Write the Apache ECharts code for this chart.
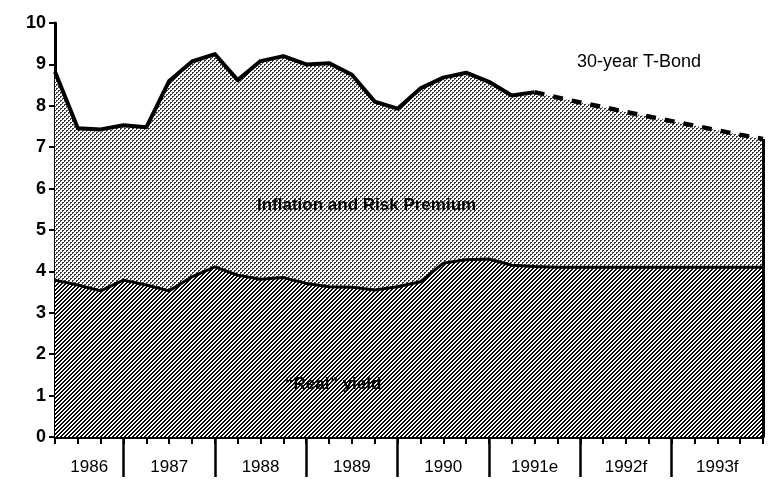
<!DOCTYPE html>
<html>
<head>
<meta charset="utf-8">
<script src="https://cdn.jsdelivr.net/npm/echarts@6/dist/echarts.min.js"></script>
<style>
  html, body { margin: 0; padding: 0; background: #fff; }
  #main { width: 772px; height: 483px; }
</style>
</head>
<body>
<div id="main"></div>
<script>
// quarterly points, Q2 1986 .. end of 1993
const tbond = [8.82, 7.46, 7.43, 7.53, 7.48, 8.6, 9.07, 9.25, 8.62, 9.08, 9.2, 9.0, 9.03, 8.75, 8.1, 7.93,
  8.42, 8.68, 8.8, 8.58, 8.25, 8.33, 8.2, 8.08, 7.97, 7.85, 7.74, 7.63, 7.52, 7.41, 7.3, 7.2];
const realYield = [3.79, 3.67, 3.53, 3.79, 3.67, 3.53, 3.87, 4.11, 3.91, 3.81, 3.85, 3.71, 3.63, 3.62, 3.55, 3.63,
  3.75, 4.2, 4.28, 4.3, 4.15, 4.12, 4.1, 4.1, 4.1, 4.1, 4.1, 4.1, 4.1, 4.1, 4.1, 4.1];
const lastActual = 21; // forecast (dashed) from here on
const years = ['1986', '1987', '1988', '1989', '1990', '1991e', '1992f', '1993f'];
const yearStart = [0, 3, 7, 11, 15, 19, 23, 27];
const xEnd = 31;
const yTicks = [0, 1, 2, 3, 4, 5, 6, 7, 8, 9, 10];

function makePattern(size, ink, fn) {
  const c = document.createElement('canvas');
  c.width = size; c.height = size;
  const ctx = c.getContext('2d');
  ctx.fillStyle = '#fff';
  ctx.fillRect(0, 0, size, size);
  ctx.fillStyle = ink;
  for (let x = 0; x < size; x++)
    for (let y = 0; y < size; y++)
      if (fn(x, y)) ctx.fillRect(x, y, 1, 1);
  return c;
}
const dots = makePattern(4, '#3a3a3a', (x, y) =>
  (x < 2 && y < 2 && !(x == 1 && y == 1)) || (x >= 2 && y >= 2 && !(x == 3 && y == 3)));
const hatch = makePattern(4, '#000', (x, y) => (x + y) % 4 < 2);

const yearMid = yearStart.map((s, i) => (s + (i + 1 < yearStart.length ? yearStart[i + 1] : xEnd)) / 2);
const yearByPos = {};
yearMid.forEach((m, i) => { yearByPos[m.toFixed(2)] = years[i]; });

const pts = arr => arr.map((v, i) => [i, v]);
const solid = tbond.map((v, i) => [i, i <= lastActual ? v : null]);
const dashed = tbond.map((v, i) => [i, i >= lastActual ? v : null]);

const sans = '"Liberation Sans", Arial, sans-serif';

let chart = echarts.init(document.getElementById('main'));
chart.setOption({
  backgroundColor: '#fff',
  animation: false,
  grid: { left: 55, right: 9, top: 23, bottom: 46 },
  xAxis: [
    {
      type: 'value', min: 0, max: xEnd, interval: 1,
      axisLine: { lineStyle: { color: '#000', width: 3 } },
      axisTick: { length: 7, lineStyle: { color: '#000', width: 2 } },
      axisLabel: { show: false },
      splitLine: { show: false }
    },
    {
      type: 'value', min: 0, max: xEnd, position: 'bottom',
      axisLine: { show: false },
      axisTick: { show: true, customValues: yearStart.slice(1), length: 40, lineStyle: { color: '#000', width: 2.5 } },
      axisLabel: {
        customValues: yearMid, margin: 22, color: '#000', fontSize: 17, fontFamily: sans,
        formatter: v => yearByPos[Number(v).toFixed(2)] || ''
      },
      splitLine: { show: false }
    }
  ],
  yAxis: {
    type: 'value', min: yTicks[0], max: yTicks[yTicks.length - 1], interval: 1,
    axisLine: { show: true, lineStyle: { color: '#000', width: 3 } },
    axisTick: { show: true, length: 6, lineStyle: { color: '#000', width: 2 } },
    axisLabel: { color: '#000', fontSize: 18, fontWeight: 'bold', fontFamily: sans, margin: 9 },
    splitLine: { show: false }
  },
  series: [
    {
      name: '30-year T-Bond', type: 'line', data: pts(tbond), symbol: 'none', z: 1,
      lineStyle: { width: 0 },
      areaStyle: { color: { image: dots, repeat: 'repeat' }, opacity: 1 },
      markLine: {
        symbol: 'none', silent: true, label: { show: false },
        lineStyle: { color: '#000', width: 3, type: 'solid' },
        data: [[{ coord: [xEnd, 0] }, { coord: [xEnd, tbond[xEnd]] }]]
      }
    },
    {
      name: 'Real yield', type: 'line', data: pts(realYield), symbol: 'none', z: 2,
      lineStyle: { color: '#000', width: 3 },
      areaStyle: { color: { image: hatch, repeat: 'repeat' }, opacity: 1 }
    },
    {
      name: 'T-Bond actual', type: 'line', data: solid, symbol: 'none', z: 3,
      lineStyle: { color: '#000', width: 4, join: 'round' }
    },
    {
      name: 'T-Bond forecast', type: 'line', data: dashed, symbol: 'none', z: 3,
      lineStyle: { color: '#000', width: 4.5, type: [10, 9] }
    }
  ],
  graphic: [
    { type: 'text', left: 577, top: 53, style: { text: '30-year T-Bond', fontSize: 18, fontFamily: sans, fill: '#000' } },
    { type: 'text', left: 257, top: 197, z: 10, style: { text: 'Inflation and Risk Premium', fontSize: 17, fontWeight: 'bold', fontFamily: sans, fill: '#000' } },
    { type: 'text', left: 285, top: 376, z: 10, style: { text: '\u201CReal\u201D yield', fontSize: 17, fontWeight: 'bold', fontFamily: sans, fill: '#000' } }
  ]
});
</script>
</body>
</html>
